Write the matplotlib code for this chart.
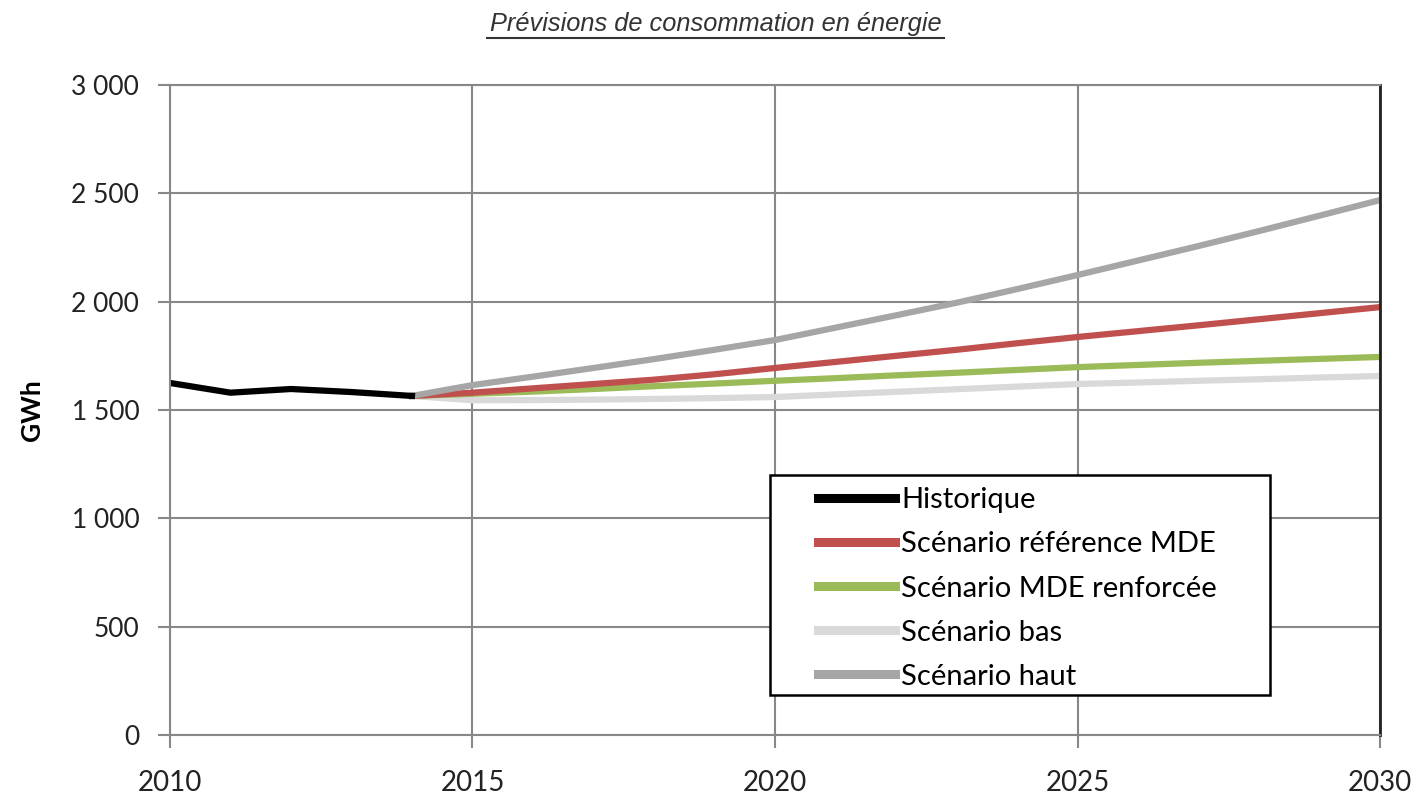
import matplotlib.pyplot as plt
from matplotlib.lines import Line2D
from matplotlib.patches import Rectangle
from matplotlib.ticker import FuncFormatter

plt.rcParams['font.family'] = ['Lato', 'DejaVu Sans']

# historical consumption (GWh)
hist_years = [2010, 2011, 2012, 2013, 2014]
hist_vals = [1625, 1580, 1597, 1583, 1565]

# scenarios, yearly 2014-2030
scen_years = list(range(2014, 2031))
ref_mde = [1565, 1580, 1600, 1620, 1640, 1665, 1694, 1722, 1750, 1778, 1808, 1837,
           1864, 1891, 1919, 1947, 1975]
mde_renf = [1565, 1575, 1585, 1597, 1610, 1622, 1635, 1647, 1660, 1672, 1685, 1698,
            1708, 1718, 1727, 1736, 1745]
bas = [1565, 1545, 1546, 1548, 1551, 1555, 1560, 1572, 1584, 1596, 1608, 1620,
       1627, 1635, 1642, 1650, 1657]
haut = [1565, 1615, 1654, 1694, 1735, 1778, 1823, 1880, 1937, 1995, 2058, 2123,
        2190, 2257, 2326, 2397, 2469]

labels = ['Historique', 'Scénario référence MDE', 'Scénario MDE renforcée',
          'Scénario bas', 'Scénario haut']
colors = ['#000000', '#c0504d', '#9bbb59', '#d9d9d9', '#a6a6a6']

fig = plt.figure(figsize=(14.16, 7.96), dpi=100)
ax = fig.add_axes([0.12, 0.0766, 0.8546, 0.8166])

lw = 4.5
ax.plot(scen_years, bas, color=colors[3], lw=lw, label=labels[3])
ax.plot(scen_years, mde_renf, color=colors[2], lw=lw, label=labels[2])
ax.plot(scen_years, ref_mde, color=colors[1], lw=lw, label=labels[1])
ax.plot(scen_years, haut, color=colors[4], lw=lw, label=labels[4])
ax.plot(hist_years, hist_vals, color=colors[0], lw=lw, label=labels[0])

ax.set_xlim(2010, 2030)
ax.set_ylim(0, 3000)
ax.set_xticks([2010, 2015, 2020, 2025, 2030])
ax.set_yticks(range(0, 3001, 500))
ax.yaxis.set_major_formatter(FuncFormatter(lambda v, p: f'{int(v):,}'.replace(',', ' ')))
ax.grid(True, color='#888888', lw=1.5)
ax.set_axisbelow(True)
ax.tick_params(axis='both', length=9, width=1.5, color='#888888', colors='#222222')
ax.tick_params(axis='y', labelsize=19, pad=13)
ax.tick_params(axis='x', labelsize=20, pad=16)
for s in ['left', 'bottom', 'top']:
    ax.spines[s].set_color('#888888')
    ax.spines[s].set_linewidth(1.5)
ax.spines['right'].set_color('#222222')
ax.spines['right'].set_linewidth(2)
ax.set_ylabel('GWh', fontsize=19, fontweight='bold', labelpad=20)

# legend frame and entries
ax.add_patch(Rectangle((0.496, 0.0615), 0.413, 0.338, transform=ax.transAxes,
                       fill=True, facecolor='white', edgecolor='black', lw=1.8, zorder=5))
handles, lbls = ax.get_legend_handles_labels()
order = [4, 2, 1, 0, 3]
leg = ax.legend([handles[i] for i in order], [lbls[i] for i in order],
                loc='upper left', bbox_to_anchor=(0.5355, 0.381),
                fontsize=21, frameon=False, handlelength=2.65, handletextpad=0.2,
                borderpad=0, borderaxespad=0, labelspacing=0.62)
leg.set_zorder(6)
for h in leg.get_lines():
    h.set_linewidth(6.5)

fig.text(0.5056, 0.97, 'Prévisions de consommation en énergie', ha='center', va='center',
         fontsize=18.3, style='italic', color='#333333', family=['Liberation Sans'])
fig.add_artist(Line2D([0.344, 0.667], [0.9525, 0.9525], color='#333333', lw=1.5))

fig.savefig('out.png', dpi=100)
